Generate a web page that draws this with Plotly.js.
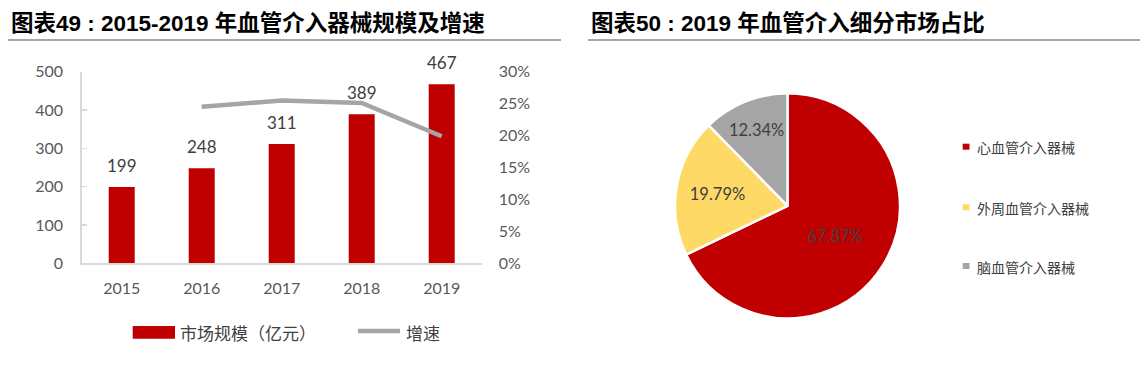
<!DOCTYPE html>
<html><head><meta charset="utf-8">
<script src="https://cdn.plot.ly/plotly-3.0.1.min.js"></script>
<style>html,body{margin:0;padding:0;background:#fff;} #chart{width:1144px;height:373px;}</style>
</head><body><div id="chart"></div>
<script>
// ---- data ----
const years = ['2015', '2016', '2017', '2018', '2019'];
const marketSize = [199, 248, 311, 389, 467];
const growthRate = [null, 0.245, 0.255, 0.251, 0.199];
const barName = '市场规模（亿元）';
const lineName = '增速';
const yTicks = [0, 100, 200, 300, 400, 500];
const y2Ticks = [0, 0.05, 0.10, 0.15, 0.20, 0.25, 0.30];
const segLabels = ['心血管介入器械', '外周血管介入器械', '脑血管介入器械'];
const segShares = [67.87, 19.79, 12.34];
const leftTitle = '图表49 : 2015-2019 年血管介入器械规模及增速';
const rightTitle = '图表50 : 2019 年血管介入细分市场占比';

// ---- styles ----
const RED = '#C00000', GRAY = '#A5A5A5', YEL = '#FFD966';
const segColors = [RED, YEL, GRAY];
const W = 1144, H = 373;
const px = x => x / W, py = y => 1 - y / H;
const NUM = 'Lato, "Noto Sans CJK SC", sans-serif';
const CJK = '"Noto Sans CJK SC", sans-serif';
const TITLE = '"Liberation Sans", "Noto Sans CJK SC", sans-serif';

const traces = [
  {type: 'bar', x: years, y: marketSize, name: barName, marker: {color: RED},
   xaxis: 'x', yaxis: 'y', showlegend: false, hoverinfo: 'x+y'},
  {type: 'scatter', mode: 'lines', x: years, y: growthRate, name: lineName,
   line: {color: GRAY, width: 4.5}, xaxis: 'x', yaxis: 'y2', showlegend: false,
   connectgaps: false},
  {type: 'pie', labels: segLabels, values: segShares, sort: false, direction: 'clockwise',
   rotation: 0, marker: {colors: segColors, line: {color: '#ffffff', width: 2.5}},
   texttemplate: '%{value:.2f}%', textposition: 'inside', insidetextorientation: 'horizontal',
   textfont: {family: NUM, size: 16.5, color: '#404040'},
   domain: {x: [px(675), px(900)], y: [py(318.3), py(93.3)]}, showlegend: false}
];

const annotations = [];
const shapes = [];

// bar value labels (x given as category index)
years.forEach((yr, i) => {
  annotations.push({xref: 'x', yref: 'y', x: i, y: marketSize[i], text: String(marketSize[i]),
    showarrow: false, yanchor: 'bottom', yshift: 9,
    font: {family: NUM, size: 17, color: '#404040'}});
});

// titles
[[leftTitle, 9, 8, 561], [rightTitle, 589, 588, 1140]].forEach(([t, tx, l0, l1]) => {
  annotations.push({xref: 'paper', yref: 'paper', x: px(tx), y: py(23), xanchor: 'left', yanchor: 'middle',
    text: '<b>' + t + '</b>', showarrow: false, font: {family: TITLE, size: 22.5, color: '#000000'}});
  shapes.push({type: 'line', xref: 'paper', yref: 'paper', x0: px(l0), x1: px(l1), y0: py(40), y1: py(40),
    line: {color: '#A6A6A6', width: 2.2}});
});

// left legend
shapes.push({type: 'rect', xref: 'paper', yref: 'paper', x0: px(132.7), x1: px(175), y0: py(338.7), y1: py(326),
  fillcolor: RED, line: {width: 0}});
annotations.push({xref: 'paper', yref: 'paper', x: px(178), y: py(332.5), xanchor: 'left', yanchor: 'middle',
  text: barName, showarrow: false, font: {family: CJK, size: 17, color: '#404040'}});
shapes.push({type: 'line', xref: 'paper', yref: 'paper', x0: px(358), x1: px(400), y0: py(331), y1: py(331),
  line: {color: GRAY, width: 4.5}});
annotations.push({xref: 'paper', yref: 'paper', x: px(404), y: py(332.5), xanchor: 'left', yanchor: 'middle',
  text: lineName, showarrow: false, font: {family: CJK, size: 17, color: '#404040'}});

// pie legend
const legY = [146.7, 207.3, 266];
segLabels.forEach((lab, i) => {
  shapes.push({type: 'rect', xref: 'paper', yref: 'paper', x0: px(962.7), x1: px(969.5),
    y0: py(legY[i] + 3), y1: py(legY[i] - 3), fillcolor: segColors[i], line: {width: 0}});
  annotations.push({xref: 'paper', yref: 'paper', x: px(975), y: py(legY[i] + 0.5), xanchor: 'left', yanchor: 'middle',
    text: lab, showarrow: false, font: {family: CJK, size: 14, color: '#404040'}});
});

const layout = {
  width: W, height: H, margin: {l: 0, r: 0, t: 0, b: 0},
  paper_bgcolor: '#ffffff', plot_bgcolor: 'rgba(0,0,0,0)',
  showlegend: false, bargap: 0.675,
  xaxis: {domain: [px(81.7), px(481.7)], type: 'category', range: [-0.5, years.length - 0.5],
    showline: true, linecolor: '#D9D9D9', linewidth: 1.5,
    ticks: '', showgrid: false, zeroline: false, ticklabelstandoff: 10,
    tickfont: {family: NUM, size: 16, color: '#595959'}},
  yaxis: {domain: [py(263.3), py(71.7)], range: [0, 500], tickvals: yTicks, showline: true, linecolor: '#D9D9D9',
    linewidth: 1.5, ticks: 'inside', ticklen: 5, tickcolor: '#D9D9D9', tickwidth: 1.5, showgrid: false,
    zeroline: false, ticklabelstandoff: 14, tickfont: {family: NUM, size: 16, color: '#595959'}},
  yaxis2: {overlaying: 'y', side: 'right', anchor: 'x', range: [0, 0.30], tickvals: y2Ticks, tickformat: '.0%',
    showline: false, ticks: '', showgrid: false, zeroline: false, ticklabelstandoff: 16,
    tickfont: {family: NUM, size: 16, color: '#595959'}},
  annotations: annotations, shapes: shapes
};

Plotly.newPlot('chart', traces, layout, {displayModeBar: false, staticPlot: true});
</script>
</body></html>
